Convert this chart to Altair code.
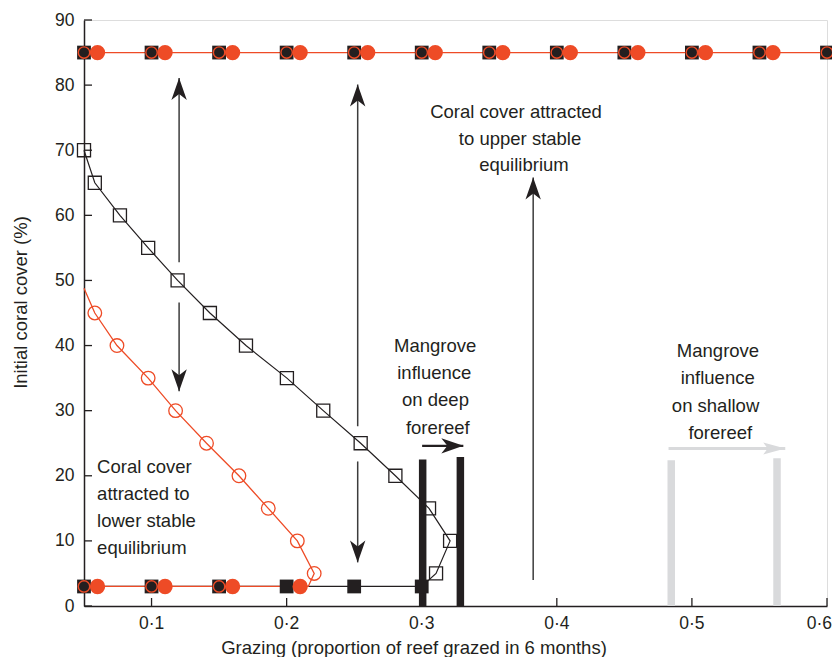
import altair as alt
import pandas as pd

# ---------------- data ----------------
# upper stable equilibrium (85 %)
top_x = [0.05, 0.10, 0.15, 0.20, 0.25, 0.30, 0.35, 0.40, 0.45, 0.50, 0.55, 0.60]
top_y = [85, 85, 85, 85, 85, 85, 85, 85, 85, 85, 85, 85]
top_red_x = [0.06, 0.11, 0.16, 0.21, 0.26, 0.31, 0.36, 0.41, 0.46, 0.51, 0.56]
top_red_y = [85, 85, 85, 85, 85, 85, 85, 85, 85, 85, 85]

# lower stable equilibrium (3 %)
low_black_x = [0.05, 0.10, 0.15, 0.20, 0.25, 0.30]
low_black_y = [3, 3, 3, 3, 3, 3]
low_red_open_x = [0.05, 0.10, 0.15]
low_red_open_y = [3, 3, 3]
low_red_x = [0.06, 0.11, 0.16, 0.21]
low_red_y = [3, 3, 3, 3]

# unstable threshold, deep forereef (black open squares)
thr_black_x = [0.05, 0.058, 0.0766, 0.0975, 0.1193, 0.1432, 0.1699, 0.2002,
               0.2271, 0.2548, 0.2805, 0.3054, 0.321, 0.3106]
thr_black_y = [70, 65, 60, 55, 50, 45, 40, 35, 30, 25, 20, 15, 10, 5]

# unstable threshold, shallow forereef (red open circles)
thr_red_x = [0.058, 0.0744, 0.0975, 0.1178, 0.1407, 0.1647, 0.1864, 0.2079, 0.2204]
thr_red_y = [45, 40, 35, 30, 25, 20, 15, 10, 5]
red_line_start_x, red_line_start_y = 0.05, 48.8
red_line_join_x, red_line_join_y = 0.216, 3

# mangrove influence bars
black_bar_x = [0.3007, 0.3286]
black_bar_top = [22.5, 22.9]
gray_bar_x = [0.4847, 0.563]
gray_bar_top = [22.4, 22.7]

# arrows
varrow_x = [0.1204, 0.1204, 0.2526, 0.2526, 0.3825]
varrow_from = [52.8, 46.6, 27.6, 22.2, 4.0]
varrow_to = [81.1, 33.0, 80.1, 6.7, 65.8]
harrow_black = {"x": 0.3003, "x2": 0.3308, "y": 24.6}
harrow_gray = {"x": 0.4827, "x2": 0.5691, "y": 24.2}

# texts
txt_center = ["Coral cover attracted", "to upper stable", "equilibrium",
              "Mangrove", "influence", "on deep", "forereef",
              "Mangrove", "influence", "on shallow", "forereef"]
txt_center_x = [0.3698, 0.3728, 0.3757,
                0.3099, 0.3093, 0.3102, 0.3119,
                0.5193, 0.5191, 0.5175, 0.521]
txt_center_y = [75.9, 71.8, 67.7,
                40.0, 35.8, 31.6, 27.4,
                39.2, 35.0, 30.7, 26.6]
txt_left = ["Coral cover", "attracted to", "lower stable", "equilibrium"]
txt_left_x = [0.0597, 0.0597, 0.0597, 0.0597]
txt_left_y = [21.4, 17.2, 13.0, 8.9]

x_ticks = [0.1, 0.2, 0.3, 0.4, 0.5, 0.6]
x_tick_labels = ["0·1", "0·2", "0·3", "0·4", "0·5", "0·6"]
y_ticks = [0, 10, 20, 30, 40, 50, 60, 70, 80, 90]

# ---------------- styling ----------------
W, H = 743, 586
RED = "#EE4B26"
BLK = "#231F20"
GRY = "#D9DADC"
ARW = "#3C3C3C"
FONT = "Liberation Sans"

xs = alt.Scale(domain=[0.05, 0.6], nice=False, zero=False)
ys = alt.Scale(domain=[0, 90], nice=False, zero=False)

x_axis = alt.Axis(values=x_ticks, labels=False, ticks=False, tickSize=0,
                  domainColor=BLK, domainWidth=1.5, grid=False,
                  title="Grazing (proportion of reef grazed in 6 months)",
                  titleFont=FONT, titleFontSize=18.5, titleFontWeight="normal",
                  titleColor=BLK, titleX=329.5, titleY=41.5, titleAlign="center",
                  titleBaseline="middle")
y_axis = alt.Axis(values=y_ticks, ticks=False, tickSize=0, labelPadding=10,
                  labelFont=FONT, labelFontSize=17.5, labelColor=BLK, labelFlush=False,
                  domainColor=BLK, domainWidth=1.5, grid=False,
                  title="Initial coral cover (%)", titleFont=FONT, titleFontSize=18.5,
                  titleFontWeight="normal", titleColor=BLK, titleX=-64, titleY=282,
                  titleAngle=270, titleAlign="center", titleBaseline="middle")


def X(field="x"):
    return alt.X(f"{field}:Q", scale=xs, axis=x_axis)


def Y(field="y"):
    return alt.Y(f"{field}:Q", scale=ys, axis=y_axis)


def df(xv, yv):
    return pd.DataFrame({"x": xv, "y": yv})


# ---------------- layers ----------------
# bars
bars_black = alt.Chart(pd.DataFrame({"x": black_bar_x, "y": [0, 0], "y2": black_bar_top})
                       ).mark_rule(color=BLK, strokeWidth=7.5).encode(x=X(), y=Y(), y2="y2:Q")
bars_gray = alt.Chart(pd.DataFrame({"x": gray_bar_x, "y": [0, 0], "y2": gray_bar_top})
                      ).mark_rule(color=GRY, strokeWidth=7.5).encode(x=X(), y=Y(), y2="y2:Q")

# black path: threshold curve then the lower equilibrium back to the left
bp_x = thr_black_x + low_black_x[::-1]
bp_y = thr_black_y + low_black_y[::-1]
black_path = pd.DataFrame({"x": bp_x, "y": bp_y, "o": list(range(len(bp_x)))})
line_black = alt.Chart(black_path).mark_line(color=BLK, strokeWidth=1.2).encode(
    x=X(), y=Y(), order="o:Q")

# red path
rp_x = [red_line_start_x] + thr_red_x + [red_line_join_x] + low_red_x[::-1] + [0.05]
rp_y = [red_line_start_y] + thr_red_y + [red_line_join_y] + low_red_y[::-1] + [3]
red_path = pd.DataFrame({"x": rp_x, "y": rp_y, "o": list(range(len(rp_x)))})
line_red = alt.Chart(red_path).mark_line(color=RED, strokeWidth=1.3).encode(
    x=X(), y=Y(), order="o:Q")
line_red_top = alt.Chart(df(top_x, top_y)).mark_line(color=RED, strokeWidth=1.3).encode(
    x=X(), y=Y())

# markers
sq_black = alt.Chart(df(top_x + low_black_x, top_y + low_black_y)).mark_point(
    shape="square", filled=True, size=190, color=BLK, opacity=1).encode(x=X(), y=Y())
sq_open = alt.Chart(df(thr_black_x, thr_black_y)).mark_point(
    shape="square", filled=False, size=170, color=BLK, strokeWidth=1.3, opacity=1
).encode(x=X(), y=Y())
circ_open_curve = alt.Chart(df(thr_red_x, thr_red_y)).mark_point(
    shape="circle", filled=False, size=185, color=RED, strokeWidth=1.3, opacity=1
).encode(x=X(), y=Y())
circ_open_eq = alt.Chart(df(top_x + low_red_open_x, top_y + low_red_open_y)).mark_point(
    shape="circle", filled=False, size=130, color=RED, strokeWidth=1.4, opacity=1
).encode(x=X(), y=Y())
circ_red = alt.Chart(df(top_red_x + low_red_x, top_red_y + low_red_y)).mark_point(
    shape="circle", filled=True, size=235, color=RED, opacity=1).encode(x=X(), y=Y())

# vertical arrows
va = pd.DataFrame({"x": varrow_x, "y": varrow_from, "y2": varrow_to,
                   "angle": [0 if t > f else 180 for f, t in zip(varrow_from, varrow_to)]})
va_shaft = alt.Chart(va).mark_rule(color=ARW, strokeWidth=1.5).encode(
    x=X(), y=Y(), y2="y2:Q")
HEAD = "M0,0 L0.7,2 L0,1.45 L-0.7,2 Z"
HEAD_G = "M0,0 L0.55,2 L0,1.6 L-0.55,2 Z"
va_head = alt.Chart(va).mark_point(shape=HEAD, filled=True, size=484, color=BLK,
                                   opacity=1).encode(
    x=X(), y=Y("y2"), angle=alt.Angle("angle:Q", scale=None))

# horizontal arrows
hb = pd.DataFrame([harrow_black])
hb_shaft = alt.Chart(hb).mark_rule(color=BLK, strokeWidth=2.2).encode(
    x=X(), x2="x2:Q", y=Y())
hb_head = alt.Chart(hb.assign(angle=90)).mark_point(
    shape=HEAD, filled=True, size=484, color=BLK, opacity=1).encode(
    x=X("x2"), y=Y(), angle=alt.Angle("angle:Q", scale=None))
hg = pd.DataFrame([harrow_gray])
hg_shaft = alt.Chart(hg).mark_rule(color=GRY, strokeWidth=3).encode(
    x=X(), x2="x2:Q", y=Y())
hg_head = alt.Chart(hg.assign(angle=90)).mark_point(
    shape=HEAD_G, filled=True, size=484, color=GRY, opacity=1).encode(
    x=X("x2"), y=Y(), angle=alt.Angle("angle:Q", scale=None))

# inward ticks
xt = alt.Chart(pd.DataFrame({"x": x_ticks})).mark_rule(color=BLK, strokeWidth=1.3).encode(
    x=X(), y=alt.value(H), y2=alt.value(H - 8))
yt = alt.Chart(pd.DataFrame({"y": y_ticks})).mark_rule(color=BLK, strokeWidth=1.3).encode(
    y=Y(), x=alt.value(0), x2=alt.value(8))

# x tick labels (last one kept inside the page)
xl_df = pd.DataFrame({"x": x_ticks, "t": x_tick_labels})
xl_main = alt.Chart(xl_df.iloc[:-1]).mark_text(
    font=FONT, fontSize=17.5, color=BLK, align="center", baseline="top").encode(
    x=X(), y=alt.value(H + 9), text="t:N")
xl_last = alt.Chart(xl_df.iloc[-1:]).mark_text(
    font=FONT, fontSize=17.5, color=BLK, align="right", baseline="top", dx=5).encode(
    x=X(), y=alt.value(H + 9), text="t:N")

# texts
tc = alt.Chart(pd.DataFrame({"x": txt_center_x, "y": txt_center_y, "t": txt_center})
               ).mark_text(font=FONT, fontSize=18.5, color=BLK, align="center",
                           baseline="middle").encode(x=X(), y=Y(), text="t:N")
tl = alt.Chart(pd.DataFrame({"x": txt_left_x, "y": txt_left_y, "t": txt_left})
               ).mark_text(font=FONT, fontSize=18.5, color=BLK, align="left",
                           baseline="middle").encode(x=X(), y=Y(), text="t:N")

chart = alt.layer(
    bars_gray, bars_black, line_black, line_red, line_red_top,
    va_shaft, va_head, hb_shaft, hb_head, hg_shaft, hg_head,
    sq_black, sq_open, circ_open_curve, circ_open_eq, circ_red,
    xt, yt, xl_main, xl_last, tc, tl
).properties(
    width=W, height=H,
    autosize=alt.AutoSizeParams(type="none"),
    padding={"left": 76, "top": 12, "right": 5, "bottom": 51},
).configure_view(stroke=None).configure(background="white")

chart.save("out.html", embed_options={"renderer": "svg", "actions": False})
